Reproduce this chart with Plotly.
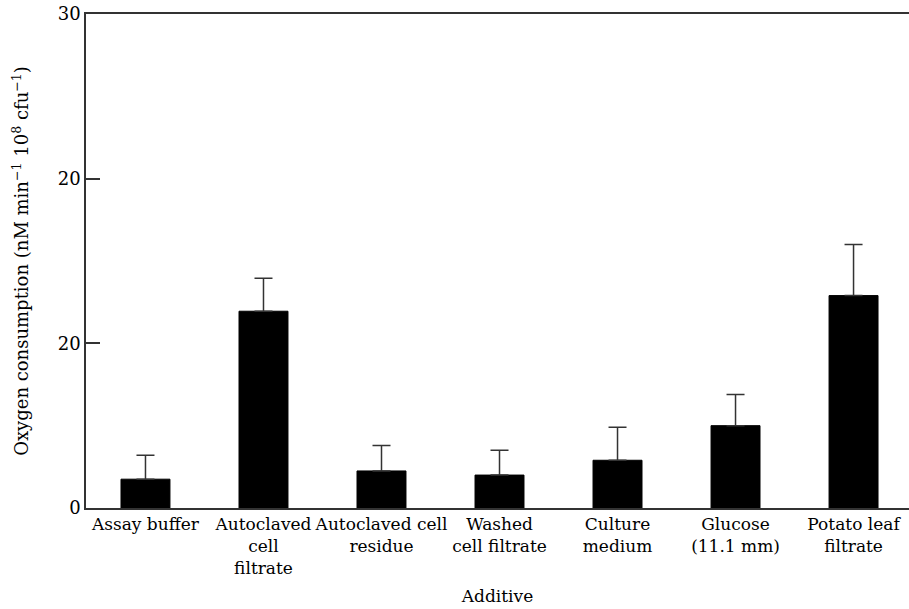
import plotly.graph_objects as go

categories = ["Assay buffer", "Autoclaved<br>cell<br>filtrate", "Autoclaved cell<br>residue",
              "Washed<br>cell filtrate", "Culture<br>medium", "Glucose<br>(11.1 mm)",
              "Potato leaf<br>filtrate"]
values = [1.75, 11.95, 2.25, 2.0, 2.9, 5.0, 12.9]
err_plus = [1.45, 2.0, 1.55, 1.5, 2.0, 1.9, 3.1]
ytick_vals = [0, 10, 20, 30]
ytick_text = ["0", "20", "20", "30"]

FONT = "DejaVu Serif"

fig = go.Figure()
fig.add_trace(go.Bar(
    x=list(range(len(categories))), y=values,
    width=0.415,
    marker=dict(color="black", line=dict(color="black", width=1)),
    error_y=dict(type="data", symmetric=False, array=err_plus,
                 arrayminus=[0] * len(values), color="#333333",
                 thickness=1.5, width=9),
    showlegend=False,
))

fig.update_layout(
    width=909, height=609,
    margin=dict(l=86, r=0, t=14, b=101),
    paper_bgcolor="white", plot_bgcolor="white",
    font=dict(family=FONT, size=17, color="black"),
    xaxis=dict(
        tickvals=list(range(len(categories))), ticktext=categories,
        range=[-0.504, 6.47], showline=True, linecolor="#333333", linewidth=1.5,
        mirror=True, ticks="", showgrid=False, zeroline=False,
        title=dict(text="Additive", font=dict(family=FONT, size=17), standoff=13),
        tickfont=dict(family=FONT, size=17),
    ),
    yaxis=dict(
        range=[0, 30], tickvals=ytick_vals, ticktext=ytick_text,
        showline=True, linecolor="#333333", linewidth=1.5,
        ticks="inside", ticklen=14, tickwidth=1.5, tickcolor="#333333",
        showgrid=False, zeroline=False,
        tickfont=dict(family=FONT, size=18),
        title=dict(text="Oxygen consumption (nM min<sup>−1</sup> 10<sup>8</sup> cfu<sup>−1</sup>)",
                   font=dict(family=FONT, size=18), standoff=24),
    ),
)

fig.write_html("out.html")
